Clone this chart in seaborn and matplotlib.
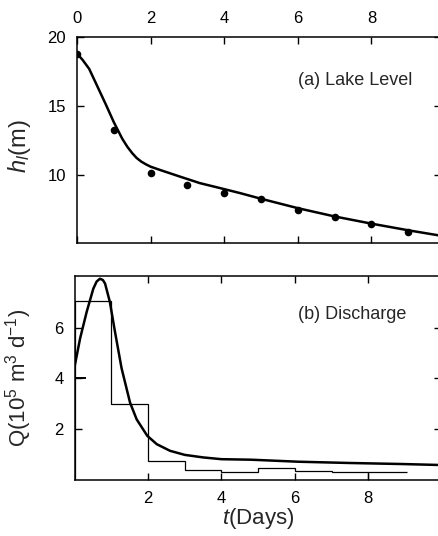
import matplotlib
matplotlib.use("Agg")
import matplotlib.pyplot as plt
import seaborn as sns
import pandas as pd

# ---- data ----
obs_day = [0, 1, 2, 3, 4, 5, 6, 7, 8, 9]
obs_level = [18.8, 13.3, 10.15, 9.3, 8.75, 8.3, 7.5, 7.0, 6.45, 5.9]

fit_day = [0, 0.15, 0.33, 0.55, 0.78, 1.0, 1.23, 1.37, 1.5, 1.62, 1.75, 1.88,
           2.0, 2.26, 2.8, 3.34, 3.89, 4.43, 5.0, 6.0, 7.0, 8.0, 9.0, 9.9]
fit_level = [18.8, 18.35, 17.7, 16.45, 15.14, 13.84, 12.64, 12.05, 11.6, 11.25,
             10.98, 10.78, 10.62, 10.38, 9.9, 9.43, 9.07, 8.71, 8.3, 7.62,
             7.02, 6.5, 6.02, 5.62]

q_day = [0, 0.15, 0.33, 0.51, 0.6, 0.69, 0.77, 0.83, 0.96, 1.10, 1.28, 1.51,
         1.69, 1.98, 2.24, 2.6, 3.0, 3.5, 4.0, 4.8, 6.1, 7.5, 8.9, 9.98]
q_model = [4.47, 5.58, 6.63, 7.54, 7.82, 7.93, 7.88, 7.74, 7.02, 5.84, 4.40,
           3.05, 2.39, 1.74, 1.41, 1.15, 0.99, 0.89, 0.82, 0.80, 0.72, 0.67,
           0.63, 0.59]

step_edges = [0, 1, 2, 3, 4, 5, 6, 7, 8]
step_q = [7.05, 2.98, 0.76, 0.39, 0.33, 0.47, 0.34, 0.30]
tail_edges = [8, 9.05]
tail_q = [0.30]
start_q = 4.0
start_end = 0.3

top_xticks = [0, 2, 4, 6, 8]
top_yticks = [10, 15, 20]
bot_xticks = [2, 4, 6, 8]
bot_yticks = [2, 4, 6]

sns.set_style("ticks")
plt.rcParams['font.family'] = ['Liberation Sans', 'DejaVu Sans']
plt.rcParams['mathtext.fontset'] = 'custom'
plt.rcParams['mathtext.it'] = 'Liberation Sans:italic'
plt.rcParams['mathtext.rm'] = 'Liberation Sans'

W, H = 439, 536
fig = plt.figure(figsize=(W / 100, H / 100), dpi=100)

def ax_rect(l, t, r, b):
    return [l / W, 1 - b / H, (r - l) / W, (b - t) / H]

ax1 = fig.add_axes(ax_rect(77, 37, 441, 243))
ax2 = fig.add_axes(ax_rect(74.6, 275.7, 441, 480))

lw_spine = 1.1
for ax in (ax1, ax2):
    for s in ax.spines.values():
        s.set_linewidth(lw_spine)
        s.set_color('black')
    ax.tick_params(direction='in', length=5, width=1.0, labelsize=12,
                   pad=8, colors='black', top=True, right=True)

# ---- (a) lake level ----
df_fit = pd.DataFrame({'t': fit_day, 'h': fit_level})
df_obs = pd.DataFrame({'t': obs_day, 'h': obs_level})
sns.lineplot(data=df_fit, x='t', y='h', ax=ax1, color='black', lw=1.8,
             sort=False, estimator=None)
sns.scatterplot(data=df_obs, x='t', y='h', ax=ax1, color='black', s=30,
                edgecolor='black', linewidth=0, zorder=5)
ax1.set_xlim(0, 9.89)
ax1.set_ylim(5.1, 20)
ax1.set_xticks(top_xticks)
ax1.set_yticks(top_yticks)
ax1.tick_params(labeltop=True, labelbottom=False)
ax1.set_xlabel('')
ax1.set_ylabel('$h_l$(m)', fontsize=17)
ax1.yaxis.set_label_coords(-0.122, 0.47)
ax1.text(0.606, 0.79, '(a) Lake Level', transform=ax1.transAxes,
         fontsize=13, va='center', ha='left')

# ---- (b) discharge ----
ax2.stairs(step_q, step_edges, baseline=0, color='black', lw=0.9)
ax2.stairs(tail_q, tail_edges, baseline=None, color='black', lw=0.9)
ax2.hlines(start_q, 0, start_end, color='black', lw=1.4)
df_q = pd.DataFrame({'t': q_day, 'q': q_model})
sns.lineplot(data=df_q, x='t', y='q', ax=ax2, color='black', lw=1.8,
             sort=False, estimator=None)
ax2.set_xlim(0, 9.98)
ax2.set_ylim(0, 8.05)
ax2.set_xticks(bot_xticks)
ax2.set_yticks(bot_yticks)
ax2.set_xlabel('$t$(Days)', fontsize=16, labelpad=0)
ax2.set_ylabel('Q(10$^5$ m$^3$ d$^{-1}$)', fontsize=16)
ax2.yaxis.set_label_coords(-0.112, 0.5)
ax2.text(0.609, 0.808, '(b) Discharge', transform=ax2.transAxes,
         fontsize=13, va='center', ha='left')

fig.savefig('out.png', dpi=100)
